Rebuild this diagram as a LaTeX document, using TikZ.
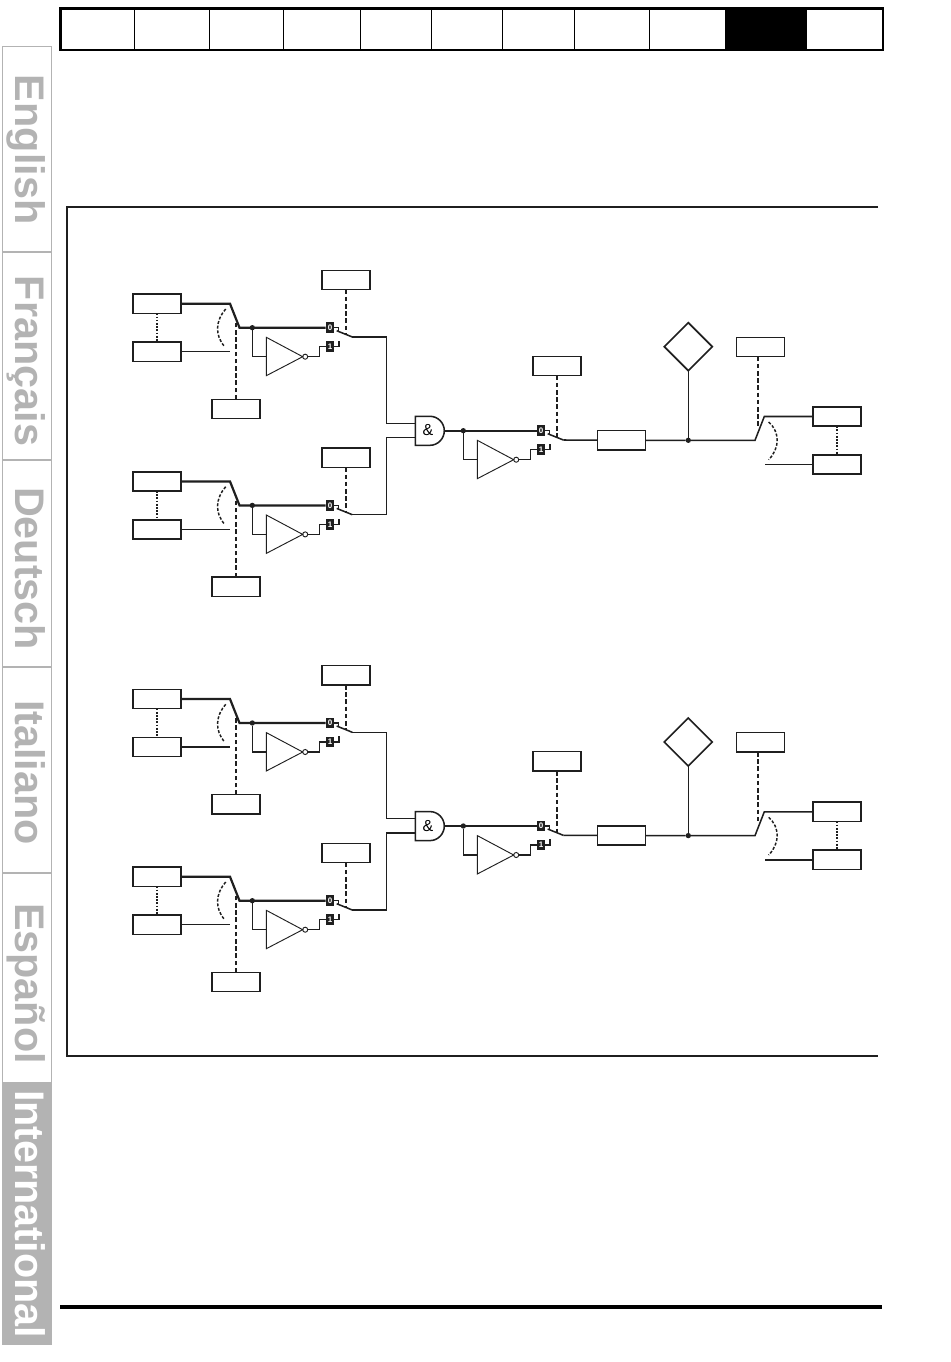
\documentclass[tikz,border=0pt]{standalone}
\usepackage{fontspec}
\setmainfont{Liberation Sans}
\usetikzlibrary{shapes.geometric}
\definecolor{tabgray}{HTML}{B3B3B3}
\definecolor{inkblack}{HTML}{1F1F1F}
\tikzset{
  pbox/.style={draw=inkblack,line width=1.2pt,fill=white,minimum width=36pt,minimum height=14.5pt,inner sep=0pt,outer sep=0pt},
  wire/.style={draw=inkblack,line width=1.15pt},
  heavywire/.style={draw=inkblack,line width=1.65pt},
  ctlline/.style={draw=inkblack,line width=1.25pt,dash pattern=on 3.4pt off 2pt},
  linkline/.style={draw=inkblack,line width=1.5pt,dash pattern=on 1.3pt off 1.1pt},
  arcline/.style={draw=inkblack,line width=1.1pt,dash pattern=on 2.2pt off 1.3pt},
  gateline/.style={draw=inkblack,line width=.7pt},
  bubble/.style={circle,draw=inkblack,line width=.7pt,fill=white,minimum size=3.8pt,inner sep=0pt,outer sep=0pt},
  jdot/.style={circle,fill=inkblack,minimum size=4pt,inner sep=0pt,outer sep=0pt},
  tagbox/.style={fill=inkblack,text=white,minimum width=6.4pt,minimum height=8pt,inner sep=0pt,outer sep=0pt,font=\bfseries\fontsize{6pt}{6pt}\selectfont},
  tabframe/.style={draw=tabgray,line width=1.3pt},
  tabtext/.style={rotate=-90,anchor=base west,inner sep=0pt,outer sep=0pt,text=tabgray,font=\bfseries\fontsize{31pt}{31pt}\selectfont},
  barcell/.style={draw=black,line width=.95pt},
  framerule/.style={draw=inkblack,line width=2.1pt}
}
% selector: #1 prefix, #2 y of the control box
\newcommand{\Selector}[2]{%
  \node[jdot] (#1-j) at (252.3,327.7) {};
  \node[tagbox] (#1-zero) at (330,327.7) {0};
  \node[tagbox] (#1-one) at (330,346.6) {1};
  \node[pbox] (#1-ctl) at (345.8,#2) {};
  \coordinate (#1-ta) at (266.3,337.3);
  \coordinate (#1-tb) at (266.3,375.7);
  \coordinate (#1-tc) at (302.7,356.7);
  \coordinate (#1-ti) at (266.3,356.7);
  \node[bubble] (#1-b) at (305.2,356.7) {};
  \coordinate (#1-z) at (338.3,331.7);
  \coordinate (#1-o) at (339,341);
  \coordinate (#1-a) at (336.7,330.7);
  \coordinate (#1-c) at (345.8,335);
  \coordinate (#1-out) at (352.3,337);
  \draw[gateline] (#1-ta) -- (#1-tc) -- (#1-tb) -- cycle;
  \draw[wire] (#1-j) |- (#1-ti);
  \draw[wire] (#1-b) -- (319.3,356.7) |- (#1-one);
  \draw[wire] (#1-zero) -| (#1-z);
  \draw[wire] (#1-one) -| (#1-o);
  \draw[wire] (#1-a) -- (#1-out);
  \draw[ctlline] (#1-ctl) -- (#1-c);
}
% one input group
\newcommand{\InBlock}[1]{%
  \node[pbox] (#1-p) at (157,303.7) {};
  \node[pbox] (#1-q) at (157,351.7) {};
  \node[pbox] (#1-r) at (235.7,409) {};
  \coordinate (#1-sa) at (230,303.7);
  \coordinate (#1-sb) at (239.5,327.7);
  \coordinate (#1-sc) at (230,351.7);
  \coordinate (#1-sd) at (235.7,321.7);
  \draw[heavywire] (#1-p) -- (#1-sa) -- (#1-sb) -- (325.7,327.7);
  \draw[wire] (#1-q) -- (#1-sc);
  \draw[linkline] (#1-p) -- (#1-q);
  \draw[ctlline] (#1-r) -- (#1-sd);
  \draw[arcline] (225.7,309) .. controls (216,320) and (214,335) .. (225,347);
  \Selector{#1}{280}
}
\newcommand{\Channel}[2]{%
\begin{scope}[shift={(0,#2)}]
  \InBlock{#1a}
  \begin{scope}[shift={(0,177.7)}]
    \InBlock{#1b}
  \end{scope}
  % AND gate
  \coordinate (#1-ga) at (415.3,423.3);
  \coordinate (#1-gb) at (415.3,437.7);
  \coordinate (#1-gout) at (444.3,430.7);
  \draw[wire] (415.3,416.3) -- (430,416.3) .. controls (438,416.3) and (444.3,423) .. (#1-gout) .. controls (444.3,438.5) and (438,445.3) .. (430,445.3) -- (415.3,445.3) -- cycle;
  \node[inner sep=0pt,font=\fontsize{12pt}{12pt}\selectfont] (#1-amp) at (428,430.5) {\&};
  \draw[wire] (#1a-out) -- (386.7,337) |- (#1-ga);
  \draw[wire] (#1b-out) -- (386.7,514.7) |- (#1-gb);
  \begin{scope}[shift={(211,103)}]
    \Selector{#1c}{263}
  \end{scope}
  \draw[heavywire] (#1-gout) -- (#1c-zero);
  % output path
  \node[pbox] (#1-d) at (621.5,440.3) {};
  \node[pbox] (#1-u) at (837,416.5) {};
  \node[pbox] (#1-v) at (837,464.5) {};
  \node[pbox] (#1-w) at (760.3,347) {};
  \node[draw=inkblack,line width=1.25pt,fill=white,diamond,aspect=1,minimum size=36pt,inner sep=0pt,outer sep=0pt] (#1-dia) at (688.3,346.7) {};
  \node[jdot] (#1-k) at (688.3,440.3) {};
  \coordinate (#1-m) at (755,440.3);
  \coordinate (#1-n) at (764.3,416.5);
  \coordinate (#1-s) at (765,464.5);
  \coordinate (#1-t) at (757.7,427);
  \draw[wire] (#1c-out) -- (#1-d);
  \draw[wire] (#1-d) -- (#1-k) -- (#1-m) -- (#1-n) -- (#1-u);
  \draw[wire] (#1-s) -- (#1-v);
  \draw[wire] (#1-dia) -- (#1-k);
  \draw[linkline] (#1-u) -- (#1-v);
  \draw[ctlline] (#1-t |- #1-w.south) -- (#1-t);
  \draw[arcline] (768.7,422) .. controls (780,432) and (780,448) .. (768.7,459.7);
\end{scope}
}
\begin{document}
\begin{tikzpicture}[x=0.75pt,y=-0.75pt]
\useasboundingbox (0,0) rectangle (950,1362);
\fill[white] (0,0) rectangle (950,1362);
% top bar
\fill[black] (725,8) rectangle (807,50);
\foreach \xx in {134.7,209.7,283.7,360.7,431.7,502.7,574.7,649.7}
  \draw[barcell] (\xx,8) -- (\xx,50);
\draw[draw=black,line width=2pt] (60.5,8.5) rectangle (883,50);
% side tabs
\fill[tabgray] (2,1082) rectangle (52,1345);
\draw[tabframe] (2.5,1082) -- (2.5,46.5) -- (51.5,46.5) -- (51.5,1082);
\foreach \yy in {252,460,667,873}
  \draw[tabframe] (2.5,\yy) -- (51.5,\yy);
\node[tabtext] (tab1) at (15,75) {English};
\node[tabtext] (tab2) at (15,276) {Français};
\node[tabtext] (tab3) at (15,487) {Deutsch};
\node[tabtext] (tab4) at (15,700) {Italiano};
\node[tabtext] (tab5) at (15,903) {Español};
\node[tabtext,text=white] (tab6) at (15,1090) {International};
% frame
\draw[framerule] (878,207) -- (67,207) -- (67,1056) -- (878,1056);
% bottom rule
\draw[draw=black,line width=2.5pt] (60,1307) -- (882,1307);
\Channel{A}{0}
\Channel{B}{395.3}
\end{tikzpicture}
\end{document}
